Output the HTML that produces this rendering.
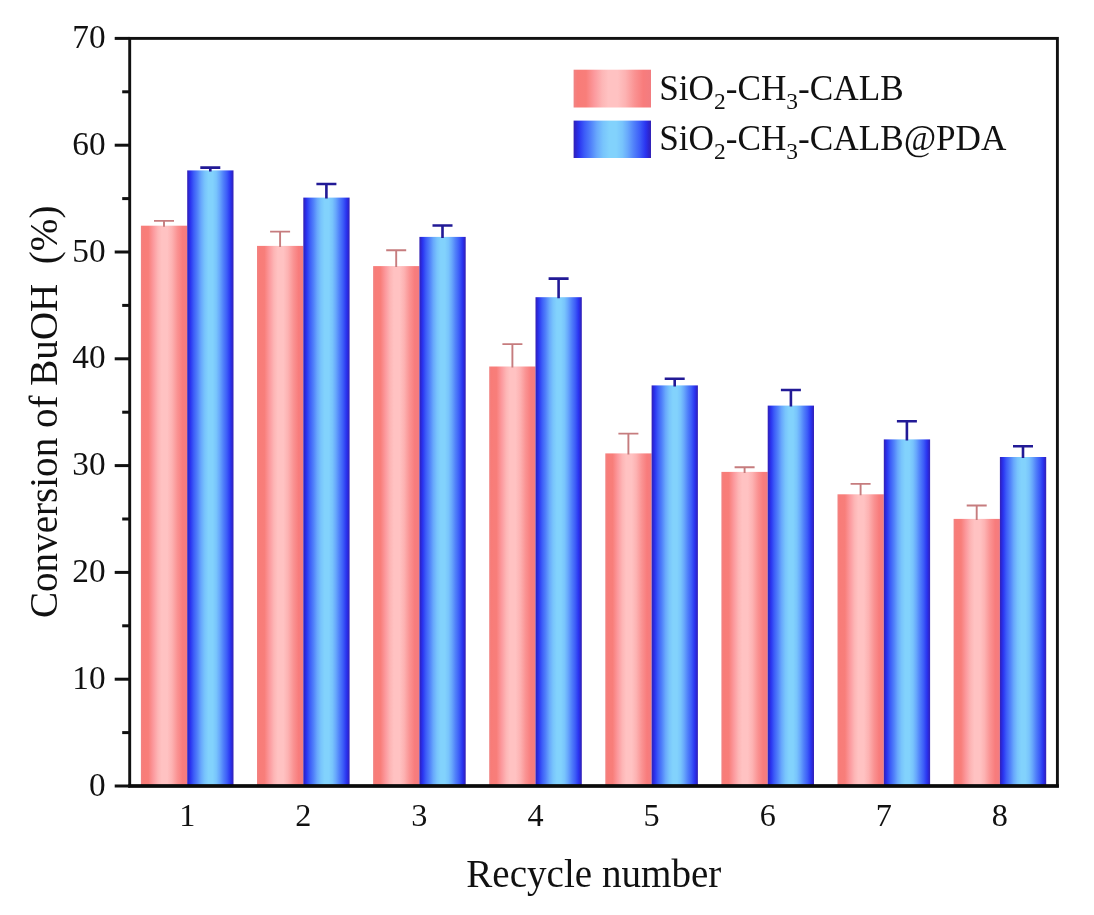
<!DOCTYPE html>
<html lang="en"><head><meta charset="utf-8"><title>Recycle number vs conversion of BuOH</title>
<style>
html,body{margin:0;padding:0;background:#fff;}
body{width:1094px;height:915px;overflow:hidden;}
svg{display:block;}
text{font-family:"Liberation Serif","Times New Roman",serif;fill:#111;}
</style></head><body>
<svg width="1094" height="915" viewBox="0 0 1094 915">
<defs>
<linearGradient id="gr" x1="0" y1="0" x2="1" y2="0">
<stop offset="0" stop-color="#f08484"/><stop offset="0.05" stop-color="#f87c78"/><stop offset="0.16" stop-color="#f87e7a"/><stop offset="0.27" stop-color="#fc9a9e"/><stop offset="0.37" stop-color="#fdb6b6"/><stop offset="0.45" stop-color="#ffc2c2"/><stop offset="0.57" stop-color="#ffc2c2"/><stop offset="0.67" stop-color="#fdb2b2"/><stop offset="0.79" stop-color="#fa9292"/><stop offset="0.9" stop-color="#f87c7c"/><stop offset="1" stop-color="#f27c80"/>
</linearGradient>
<linearGradient id="gb" x1="0" y1="0" x2="1" y2="0">
<stop offset="0" stop-color="#3422b4"/><stop offset="0.03" stop-color="#2c26d0"/><stop offset="0.07" stop-color="#2a34f0"/><stop offset="0.14" stop-color="#3c5cf8"/><stop offset="0.22" stop-color="#5080fa"/><stop offset="0.3" stop-color="#68a8fc"/><stop offset="0.38" stop-color="#78c4fc"/><stop offset="0.46" stop-color="#82d2fc"/><stop offset="0.55" stop-color="#82d2fc"/><stop offset="0.63" stop-color="#78c4fc"/><stop offset="0.7" stop-color="#68a8fc"/><stop offset="0.78" stop-color="#5080fa"/><stop offset="0.86" stop-color="#3c5cf8"/><stop offset="0.93" stop-color="#2a34f0"/><stop offset="0.97" stop-color="#2c26d0"/><stop offset="1" stop-color="#3422b4"/>
</linearGradient>
</defs>
<rect width="1094" height="915" fill="#fff"/>

<rect x="140.9" y="225.7" width="46.3" height="560.3" fill="url(#gr)"/>
<rect x="187.2" y="170.4" width="46.3" height="615.6" fill="url(#gb)"/>
<rect x="257.0" y="245.9" width="46.3" height="540.1" fill="url(#gr)"/>
<rect x="303.3" y="197.6" width="46.3" height="588.4" fill="url(#gb)"/>
<rect x="373.1" y="266.1" width="46.3" height="519.9" fill="url(#gr)"/>
<rect x="419.4" y="236.9" width="46.3" height="549.1" fill="url(#gb)"/>
<rect x="489.2" y="366.5" width="46.3" height="419.5" fill="url(#gr)"/>
<rect x="535.5" y="297.2" width="46.3" height="488.8" fill="url(#gb)"/>
<rect x="605.3" y="453.4" width="46.3" height="332.6" fill="url(#gr)"/>
<rect x="651.6" y="385.4" width="46.3" height="400.6" fill="url(#gb)"/>
<rect x="721.4" y="471.9" width="46.3" height="314.1" fill="url(#gr)"/>
<rect x="767.7" y="405.6" width="46.3" height="380.4" fill="url(#gb)"/>
<rect x="837.5" y="494.3" width="46.3" height="291.7" fill="url(#gr)"/>
<rect x="883.8" y="439.4" width="46.3" height="346.6" fill="url(#gb)"/>
<rect x="953.6" y="518.9" width="46.3" height="267.1" fill="url(#gr)"/>
<rect x="999.9" y="457.0" width="46.3" height="329.0" fill="url(#gb)"/>
<path d="M164.0 226.7V220.9M154.0 220.9H174.0" stroke="#c67c7e" stroke-width="1.9" fill="none"/>
<path d="M210.3 171.4V167.6M200.3 167.6H220.3" stroke="#221a96" stroke-width="2.6" fill="none"/>
<path d="M280.1 246.9V231.6M270.1 231.6H290.1" stroke="#c67c7e" stroke-width="1.9" fill="none"/>
<path d="M326.4 198.6V184.0M316.4 184.0H336.4" stroke="#221a96" stroke-width="2.6" fill="none"/>
<path d="M396.2 267.1V250.3M386.2 250.3H406.2" stroke="#c67c7e" stroke-width="1.9" fill="none"/>
<path d="M442.5 237.9V225.5M432.5 225.5H452.5" stroke="#221a96" stroke-width="2.6" fill="none"/>
<path d="M512.4 367.5V344.1M502.4 344.1H522.4" stroke="#c67c7e" stroke-width="1.9" fill="none"/>
<path d="M558.6 298.2V278.6M548.6 278.6H568.6" stroke="#221a96" stroke-width="2.6" fill="none"/>
<path d="M628.4 454.4V433.6M618.4 433.6H638.4" stroke="#c67c7e" stroke-width="1.9" fill="none"/>
<path d="M674.7 386.4V378.8M664.7 378.8H684.7" stroke="#221a96" stroke-width="2.6" fill="none"/>
<path d="M744.6 472.9V467.3M734.6 467.3H754.6" stroke="#c67c7e" stroke-width="1.9" fill="none"/>
<path d="M790.9 406.6V390.0M780.9 390.0H800.9" stroke="#221a96" stroke-width="2.6" fill="none"/>
<path d="M860.6 495.3V483.9M850.6 483.9H870.6" stroke="#c67c7e" stroke-width="1.9" fill="none"/>
<path d="M906.9 440.4V421.3M896.9 421.3H916.9" stroke="#221a96" stroke-width="2.6" fill="none"/>
<path d="M976.7 519.9V505.5M966.7 505.5H986.7" stroke="#c67c7e" stroke-width="1.9" fill="none"/>
<path d="M1023.0 458.0V446.3M1013.0 446.3H1033.0" stroke="#221a96" stroke-width="2.6" fill="none"/>
<rect x="129.7" y="38.4" width="927.7" height="747.6" fill="none" stroke="#111" stroke-width="2.9"/>
<line x1="128.2" y1="786.0" x2="1058.9" y2="786.0" stroke="#0a0a0a" stroke-width="3.6"/>
<line x1="114.7" y1="786.0" x2="129.7" y2="786.0" stroke="#111" stroke-width="3"/>
<text x="105.6" y="795.6" font-size="33.3" text-anchor="end">0</text>
<line x1="122.2" y1="732.6" x2="129.7" y2="732.6" stroke="#111" stroke-width="3"/>
<line x1="114.7" y1="679.2" x2="129.7" y2="679.2" stroke="#111" stroke-width="3"/>
<text x="105.6" y="688.8" font-size="33.3" text-anchor="end">10</text>
<line x1="122.2" y1="625.8" x2="129.7" y2="625.8" stroke="#111" stroke-width="3"/>
<line x1="114.7" y1="572.4" x2="129.7" y2="572.4" stroke="#111" stroke-width="3"/>
<text x="105.6" y="582.0" font-size="33.3" text-anchor="end">20</text>
<line x1="122.2" y1="519.0" x2="129.7" y2="519.0" stroke="#111" stroke-width="3"/>
<line x1="114.7" y1="465.6" x2="129.7" y2="465.6" stroke="#111" stroke-width="3"/>
<text x="105.6" y="475.2" font-size="33.3" text-anchor="end">30</text>
<line x1="122.2" y1="412.2" x2="129.7" y2="412.2" stroke="#111" stroke-width="3"/>
<line x1="114.7" y1="358.8" x2="129.7" y2="358.8" stroke="#111" stroke-width="3"/>
<text x="105.6" y="368.4" font-size="33.3" text-anchor="end">40</text>
<line x1="122.2" y1="305.4" x2="129.7" y2="305.4" stroke="#111" stroke-width="3"/>
<line x1="114.7" y1="252.0" x2="129.7" y2="252.0" stroke="#111" stroke-width="3"/>
<text x="105.6" y="261.6" font-size="33.3" text-anchor="end">50</text>
<line x1="122.2" y1="198.6" x2="129.7" y2="198.6" stroke="#111" stroke-width="3"/>
<line x1="114.7" y1="145.2" x2="129.7" y2="145.2" stroke="#111" stroke-width="3"/>
<text x="105.6" y="154.8" font-size="33.3" text-anchor="end">60</text>
<line x1="122.2" y1="91.8" x2="129.7" y2="91.8" stroke="#111" stroke-width="3"/>
<line x1="114.7" y1="38.4" x2="129.7" y2="38.4" stroke="#111" stroke-width="3"/>
<text x="105.6" y="48.0" font-size="33.3" text-anchor="end">70</text>
<text x="187.2" y="825.7" font-size="32.2" text-anchor="middle">1</text>
<text x="303.3" y="825.7" font-size="32.2" text-anchor="middle">2</text>
<text x="419.4" y="825.7" font-size="32.2" text-anchor="middle">3</text>
<text x="535.5" y="825.7" font-size="32.2" text-anchor="middle">4</text>
<text x="651.6" y="825.7" font-size="32.2" text-anchor="middle">5</text>
<text x="767.7" y="825.7" font-size="32.2" text-anchor="middle">6</text>
<text x="883.8" y="825.7" font-size="32.2" text-anchor="middle">7</text>
<text x="999.9" y="825.7" font-size="32.2" text-anchor="middle">8</text>
<text x="593.8" y="886.5" font-size="39.1" text-anchor="middle">Recycle number</text>
<text transform="translate(56.5 618) rotate(-90)" font-size="39.1" xml:space="preserve">Conversion of BuOH  (%)</text>
<rect x="573.6" y="69.7" width="77.4" height="37.8" fill="url(#gr)"/>
<rect x="573.6" y="120.6" width="77.4" height="37.4" fill="url(#gb)"/>
<text x="659.2" y="99.5" font-size="35.2">SiO<tspan font-size="23.5" dy="9">2</tspan><tspan dy="-9">-CH</tspan><tspan font-size="23.5" dy="9">3</tspan><tspan dy="-9">-CALB</tspan></text>
<text x="659.2" y="150.4" font-size="35.2">SiO<tspan font-size="23.5" dy="9">2</tspan><tspan dy="-9">-CH</tspan><tspan font-size="23.5" dy="9">3</tspan><tspan dy="-9">-CALB@PDA</tspan></text>
</svg></body></html>
